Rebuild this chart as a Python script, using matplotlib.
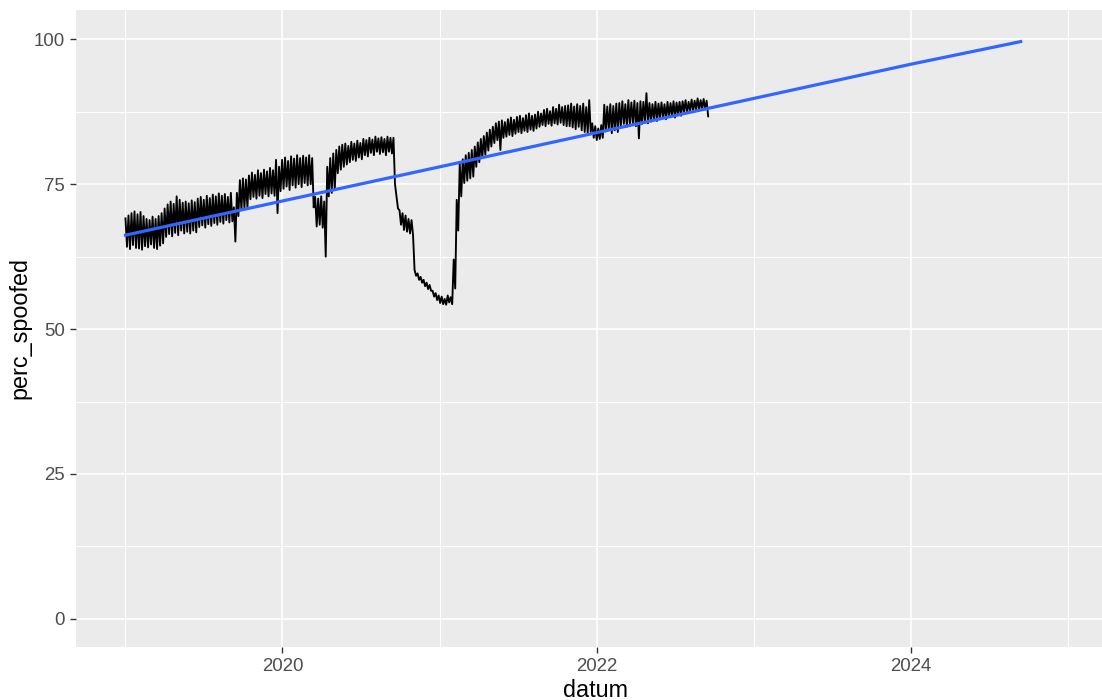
import matplotlib

matplotlib.use('Agg')
import matplotlib.pyplot as plt
import pandas as pd

# weekly readings of perc_spoofed: weekday peak (hi) and weekend dip (lo)
start_day = '2019-01-01'
hi = [69.1, 69.6, 70.0, 70.3, 69.8, 70.2, 69.5, 69.0, 68.8, 69.4,
      69.0, 69.5, 70.0, 70.8, 71.5, 72.0, 71.6, 72.9, 72.3, 71.8,
      72.0, 71.7, 72.2, 71.9, 72.5, 72.8, 72.3, 73.0, 72.6, 73.2,
      72.9, 73.4, 73.0, 73.3, 72.8, 73.5, 71.0, 73.5, 75.7, 76.0,
      75.8, 76.5, 77.0, 76.6, 77.4, 76.9, 77.5, 77.2, 77.8, 77.4,
      79.2, 78.0, 79.2, 79.6, 79.0, 79.8, 79.4, 80.0, 79.5, 79.9,
      79.6, 80.0, 79.5, 72.8, 72.5, 72.9, 72.0, 78.0, 79.5, 80.3,
      80.9, 81.5, 81.8, 82.0, 81.6, 82.3, 82.0, 82.5, 82.1, 82.8,
      82.6, 83.0, 82.7, 83.2, 82.9, 83.1, 82.8, 83.2, 83.0, 83.0,
      72.9, 70.5, 70.0, 69.6, 69.0, 68.8, 60.2, 59.6, 59.0, 58.5,
      58.0, 57.6, 56.6, 56.2, 55.8, 55.6, 55.2, 55.8, 55.5, 62.0,
      72.3, 78.6, 79.3, 80.0, 80.4, 80.9, 81.5, 82.2, 82.8, 83.3,
      83.9, 84.4, 84.9, 85.5, 85.8, 86.0, 85.7, 86.2, 86.5, 86.1,
      86.6, 86.8, 86.4, 86.9, 87.2, 86.8, 87.0, 87.5, 87.2, 87.8,
      88.0, 87.6, 88.3, 88.0, 88.7, 88.3, 88.5, 88.6, 88.9, 88.4,
      88.8, 88.5, 88.9, 88.3, 89.5, 85.5, 85.0, 84.6, 85.2, 88.7,
      88.4, 88.8, 88.5, 88.9, 89.0, 89.3, 88.8, 89.5, 89.1, 89.4,
      89.0, 89.3, 89.2, 90.7, 89.0, 88.8, 89.2, 88.9, 89.1, 88.8,
      89.2, 89.0, 89.3, 89.1, 89.2, 89.3, 89.5, 89.2, 89.6, 89.4,
      89.8, 89.5, 89.7, 89.4]
lo = [64.2, 63.8, 64.5, 64.0, 63.9, 63.7, 64.3, 64.1, 64.6, 64.0,
      63.8, 64.4, 64.8, 65.9, 66.4, 66.0, 66.6, 66.2, 67.0, 66.5,
      66.8, 66.5, 67.0, 66.7, 67.6, 67.9, 67.5, 68.1, 67.8, 68.3,
      68.0, 68.5, 68.2, 68.8, 68.4, 68.6, 65.1, 69.5, 70.5, 70.9,
      71.0, 72.4, 72.8, 72.5, 73.0, 72.6, 73.3, 72.9, 73.4, 73.0,
      70.0, 73.8, 74.2, 74.6, 74.0, 74.8, 74.4, 75.0, 74.5, 75.2,
      74.8, 75.0, 71.0, 67.7, 68.0, 67.5, 62.5, 72.9, 73.5, 74.0,
      76.9, 77.5, 78.0, 78.4, 78.8, 79.2, 79.0, 79.6, 79.3, 80.0,
      79.8, 80.4, 80.0, 80.6, 80.2, 80.5, 80.0, 80.6, 80.3, 75.0,
      70.8, 68.0, 67.1, 66.8, 66.5, 66.2, 59.2, 58.5, 58.0, 57.4,
      56.9, 56.6, 55.6, 55.0, 54.5, 54.3, 54.2, 54.6, 54.3, 57.0,
      67.0, 72.9, 75.2, 75.6, 76.0, 76.3, 78.0, 78.8, 79.5, 80.1,
      80.8, 81.5, 82.1, 82.6, 80.9, 83.0, 83.2, 83.5, 83.3, 83.7,
      84.0, 83.8, 84.2, 84.0, 84.4, 84.2, 84.6, 84.9, 85.2, 85.0,
      85.4, 85.1, 85.5, 85.3, 85.6, 85.2, 85.0, 85.0, 84.8, 84.5,
      84.9, 84.3, 84.0, 83.8, 84.0, 83.0, 82.6, 82.8, 83.0, 84.1,
      84.4, 83.8, 84.3, 84.0, 85.0, 85.4, 84.9, 85.3, 85.5, 85.0,
      82.9, 85.4, 85.6, 85.5, 85.8, 86.1, 85.9, 86.3, 86.5, 86.2,
      86.6, 86.8, 86.5, 87.0, 86.8, 87.5, 87.3, 87.7, 87.6, 87.9,
      87.8, 88.1, 87.9, 86.7]

# fitted trend (blue line)
trend_dates = ['2019-01-01', '2020-01-01', '2021-01-01', '2022-01-01',
               '2023-01-01', '2024-01-01', '2024-09-12']
trend_vals = [66.2, 72.1, 78.0, 83.9, 89.8, 95.7, 99.6]

year_ticks = ['2020', '2022', '2024']
year_minor = ['2019', '2021', '2023', '2025']
y_ticks = [0, 25, 50, 75, 100]
y_minor = [12.5, 37.5, 62.5, 87.5]


def plot():
    plt.rcParams['font.family'] = ['Liberation Sans', 'DejaVu Sans']
    fig = plt.figure(figsize=(11.02, 7.0), dpi=100)
    ax = fig.add_axes([76 / 1102, 1 - 646.7 / 700, 1 - 76 / 1102, 636.7 / 700])
    ax.set_facecolor('#EBEBEB')

    weeks = pd.date_range(start_day, periods=len(hi), freq='7D')
    xs = []
    ys = []
    for d, h, l in zip(weeks, hi, lo):
        xs.append(d)
        ys.append(h)
        xs.append(d + pd.Timedelta(hours=84))
        ys.append(l)
    ax.plot(xs, ys, color='black', lw=1.35, zorder=3)

    ax.plot(pd.to_datetime(trend_dates), trend_vals, color='#3366FF', lw=2.3, zorder=4)

    ax.set_xlim(pd.Timestamp('2018-09-08'), pd.Timestamp('2025-03-20'))
    ax.set_ylim(-4.8, 105.05)

    ax.set_xticks(pd.to_datetime([t + '-01-01' for t in year_ticks]))
    ax.set_xticklabels(year_ticks)
    ax.set_xticks(pd.to_datetime([t + '-01-01' for t in year_minor]), minor=True)
    ax.set_yticks(y_ticks)
    ax.set_yticks(y_minor, minor=True)

    ax.grid(which='major', color='white', lw=1.2)
    ax.grid(which='minor', color='white', lw=0.7)
    ax.set_axisbelow(True)
    for s in ax.spines.values():
        s.set_visible(False)

    ax.tick_params(which='major', length=4.1, width=1.0, color='#333333',
                   labelcolor='#4D4D4D', labelsize=13.4, pad=4)
    ax.tick_params(which='minor', length=0)

    ax.set_xlabel('datum', fontsize=16.8, color='black')
    ax.set_ylabel('perc_spoofed', fontsize=16.8, color='black')
    ax.xaxis.set_label_coords(0.506, -0.0507)
    ax.yaxis.set_label_coords(-0.0439, 0.5)

    fig.savefig('out.png', dpi=100)


if __name__ == "__main__":
    plot()
